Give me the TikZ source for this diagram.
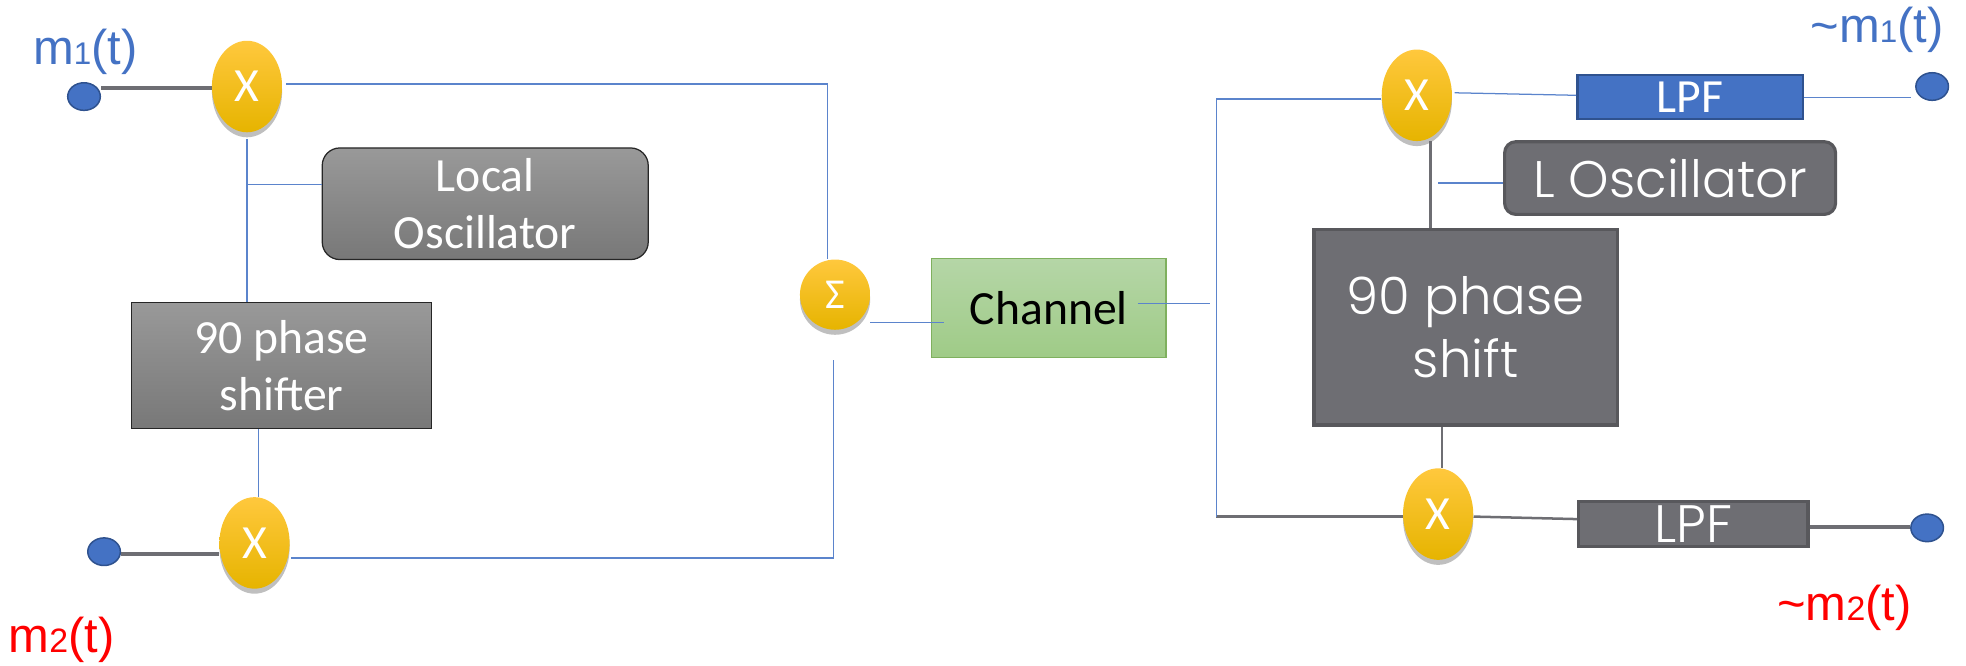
\documentclass[tikz,border=0pt]{standalone}
\usepackage{fontspec}
\setmainfont{Carlito}
\newfontfamily\labelfont{Liberation Sans}
\newfontfamily\gothfont{Poppins Light}
\usetikzlibrary{shapes.geometric,shadows}

\definecolor{wireblue}{HTML}{5B84CC}
\definecolor{dotblue}{HTML}{4472C4}
\definecolor{dotedge}{HTML}{2F528F}
\definecolor{slate}{HTML}{6E6E73}
\definecolor{slatedge}{HTML}{58585C}
\definecolor{goldtop}{HTML}{FFC83D}
\definecolor{goldmid}{HTML}{FFC000}
\definecolor{goldlow}{HTML}{E6B400}
\definecolor{chantop}{HTML}{B5D6A7}
\definecolor{chanlow}{HTML}{9FCB87}
\definecolor{chanedge}{HTML}{7FB05E}

\begin{document}
\begin{tikzpicture}[x=1pt,y=-1pt,
    wire/.style={draw=wireblue,line width=1pt},
    heavy/.style={draw=slate,line width=3pt},
    slateline/.style={draw=slate,line width=2pt},
    mixer/.style={ellipse,inner sep=0pt,minimum width=56pt,minimum height=73pt,text=white,
      top color=goldtop,middle color=goldmid,bottom color=goldlow,
      drop shadow={shadow xshift=0pt,shadow yshift=-4pt,opacity=.25,fill=black},
      font=\fontsize{38}{44}\selectfont},
    terminal/.style={ellipse,draw=dotedge,line width=1.2pt,fill=dotblue,inner sep=0pt,minimum width=26pt,minimum height=22pt},
    graybox/.style={draw=black!85,line width=1pt,top color=black!40,bottom color=black!53,text=white,
      inner sep=0pt,align=center,font=\fontsize{38}{46}\selectfont},
    slatebox/.style={draw=slatedge,line width=2.5pt,fill=slate,text=white,inner sep=0pt,align=center},
    siglabel/.style={inner sep=0pt,font=\labelfont\fontsize{39}{44}\selectfont}]
  \useasboundingbox (0,0) rectangle (1568,531);
  % modulator
  \node[mixer] (mixa) at (197,69) {X};
  \node[mixer] (mixb) [below of=mixa,node distance=364pt,xshift=6pt] {X};
  \node[terminal] (dota) [left of=mixa,node distance=130pt,yshift=-8pt] {};
  \node[terminal] (dotb) [left of=mixb,node distance=120pt,yshift=-7pt] {};
  \node[graybox,rounded corners=14pt,minimum width=260pt,minimum height=89pt] (oscl) at (387,162.5) {Local\\Oscillator};
  \node[graybox,minimum width=239pt,minimum height=101pt] (phasel) at (224.5,291.5) {90 phase\\shifter};
  \node[mixer,minimum width=56pt,minimum height=56pt,font=\fontsize{34}{40}\selectfont] (sumn) at (666,235) {Σ};
  \node[draw=chanedge,line width=1pt,top color=chantop,bottom color=chanlow,
        minimum width=187pt,minimum height=79pt,inner sep=0pt,font=\fontsize{38}{44}\selectfont]
        (chan) [right of=sumn,node distance=170.5pt,yshift=-10.5pt] {\raisebox{-4pt}{Channel}};
  % demodulator
  \node[mixer] (mixc) at (1130,76) {X};
  \node[mixer] (mixd) [below of=mixc,node distance=334pt,xshift=17pt] {X};
  \node[draw=dotedge,line width=2pt,fill=dotblue,text=white,minimum width=180pt,minimum height=35pt,inner sep=0pt,
        font=\fontsize{38}{40}\selectfont] (lpfa) at (1348,77.5) {LPF};
  \node[slatebox,minimum width=183pt,minimum height=36pt,font=\gothfont\fontsize{42}{44}\selectfont] (lpfb) at (1350.5,418) {LPF};
  \node[slatebox,rounded corners=9pt,minimum width=264pt,minimum height=58pt,font=\gothfont\fontsize{41}{46}\selectfont]
        (osce) at (1332,142) {L Oscillator};
  \node[slatebox,minimum width=242pt,minimum height=156pt,font=\gothfont\fontsize{41}{50}\selectfont] (phaser) at (1169,261) {90 phase\\shift};
  \node[terminal] (dotc) at (1541,69) {};
  \node[terminal] (dotd) at (1537,421) {};
  % labels
  \node[siglabel,text=dotblue] (ma) at (68,41) {m{\fontsize{25}{25}\selectfont 1}(t)};
  \node[siglabel,text=red] (mb) at (49,510) {m{\fontsize{27}{27}\selectfont 2}(t)};
  \node[siglabel,text=dotblue] (mc) at (1497,24) {\textasciitilde m{\fontsize{25}{25}\selectfont 1}(t)};
  \node[siglabel,text=red] (md) at (1471,485) {\textasciitilde m{\fontsize{27}{27}\selectfont 2}(t)};
  \coordinate (chanout) at (965,242);
  \coordinate (bust) at (970,79);
  \coordinate (busb) at (970,412);
  \path
    ([yshift=7pt]dota.east) edge [heavy] ([yshift=7pt]dota.east -| mixa.west)
    ([yshift=-2pt]dotb.east) edge [heavy] ([yshift=-2pt]dotb.east -| mixb.west)
    ([yshift=-5pt]mixa.south) edge [wire] (mixa.south |- phasel.north)
    ([yshift=15.5pt]oscl.west) edge [wire] ([yshift=15.5pt]oscl.west -| mixa.south)
    ([xshift=-18.5pt]phasel.south) edge [wire] ([xshift=-18.5pt]phasel.south |- mixb.north)
    ([yshift=-22pt]sumn.east) edge [wire] ([xshift=10pt,yshift=-11.5pt]chan.west)
    ([xshift=-23pt,yshift=3.5pt]chan.east) edge [wire] (chanout)
    ([yshift=1.5pt]lpfa.west) edge [wire] ([xshift=2pt,yshift=2pt]mixc.east)
    (lpfa.east) edge [wire] ([xshift=-3pt]dotc.west |- lpfa.east)
    ([xshift=11pt]mixc.south) edge [slateline] ([xshift=11pt]mixc.south |- phaser.north)
    ([yshift=-4pt]osce.west) edge [wire] ([xshift=-52pt,yshift=-4pt]osce.west)
    ([xshift=-19pt]phaser.south) edge [slateline] ([xshift=-19pt]phaser.south |- mixd.north)
    ([yshift=-2pt]mixd.east) edge [slateline] ([yshift=4pt]lpfb.west)
    ([yshift=-2pt]lpfb.east) edge [heavy] ([yshift=-2pt]lpfb.east -| dotd.west)
    (busb) edge [heavy] (busb -| mixd.west);
  \draw[wire] ([xshift=3pt,yshift=2pt]mixa.east) -| ([xshift=-6pt]sumn.north);
  \draw[wire] ([xshift=1pt,yshift=-12pt]mixb.east) -| ([xshift=-1pt,yshift=-24pt]sumn.south);
  \draw[wire] ([yshift=-3pt]mixc.west) -- (bust) -- (busb);
\end{tikzpicture}
\end{document}
